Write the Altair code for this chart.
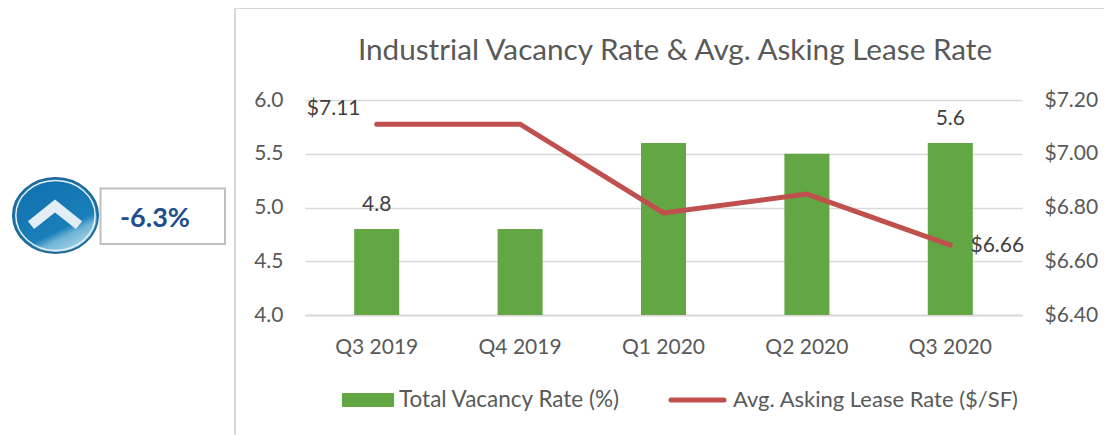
import altair as alt
import pandas as pd

quarters = ["Q3 2019", "Q4 2019", "Q1 2020", "Q2 2020", "Q3 2020"]
vacancy = [4.8, 4.8, 5.6, 5.5, 5.6]
lease = [7.11, 7.11, 6.78, 6.85, 6.66]
vacancy_labels = ["4.8", "", "", "", "5.6"]
lease_labels = ["$7.11", "", "", "", "$6.66"]

FONT = "Lato"
GRAY = "#595959"
LIGHT = "#D9D9D9"
GREEN = "#62A744"
RED = "#C0504D"

df = pd.DataFrame({"q": quarters, "v": vacancy, "l": lease, "vl": vacancy_labels, "ll": lease_labels})
one = alt.Data(values=[{"a": 1}])

W, H = 717, 215
OX, OY = 305, 100  # plot origin on the page


def px(x):
    return alt.value(x - OX)


def py(y):
    return alt.value(y - OY)


xenc = alt.X("q:N", sort=quarters, title=None,
             scale=alt.Scale(paddingInner=0.686, paddingOuter=0.343),
             axis=alt.Axis(labelAngle=0, labelFont=FONT, labelFontSize=21, labelColor=GRAY,
                           labelPadding=21, ticks=False, domainColor=LIGHT, domainWidth=2, grid=False))
xplain = alt.X("q:N", sort=quarters)

bars = alt.Chart(df).mark_bar(color=GREEN, clip=True).encode(
    x=xenc,
    y=alt.Y("v:Q", title=None, scale=alt.Scale(domain=[4, 6], nice=False),
            axis=alt.Axis(values=[4, 4.5, 5, 5.5, 6], format=".1f", labelFont=FONT, labelFontSize=21,
                          labelColor=GRAY, labelPadding=22, ticks=False, domain=False,
                          grid=True, gridColor=LIGHT, gridWidth=1.5)),
)
vlab = alt.Chart(df).transform_filter("datum.vl != ''").mark_text(
    font=FONT, fontSize=21, color="#404040", dy=-24).encode(x=xplain, y=alt.Y("v:Q"), text="vl:N")
left = alt.layer(bars, vlab)

yr = alt.Y("l:Q", title=None, scale=alt.Scale(domain=[6.4, 7.2], nice=False),
           axis=alt.Axis(orient="right", values=[6.4, 6.6, 6.8, 7.0, 7.2], format="$.2f", labelFont=FONT,
                         labelFontSize=21, labelColor=GRAY, labelPadding=22, ticks=False, domain=False,
                         grid=False))
line = alt.Chart(df).mark_line(color=RED, strokeWidth=5, strokeCap="round", strokeJoin="miter").encode(
    x=xplain, y=yr)
llab1 = alt.Chart(df).transform_filter("datum.q == 'Q3 2019'").mark_text(
    font=FONT, fontSize=21, color="#404040", dx=-43, dy=-15).encode(x=xplain, y=alt.Y("l:Q"), text="ll:N")
llab2 = alt.Chart(df).transform_filter("datum.q == 'Q3 2020' ").mark_text(
    font=FONT, fontSize=21, color="#404040", dx=47, dy=1).encode(x=xplain, y=alt.Y("l:Q"), text="ll:N")
right = alt.layer(line, llab1, llab2)


def text(s, x, y, size=20, color=GRAY, align="left", weight="normal", font=FONT):
    return alt.Chart(one).mark_text(text=s, font=font, fontSize=size, color=color, align=align,
                                    baseline="middle", fontWeight=weight).encode(x=px(x), y=py(y))


ELLIPSE = "M-1,0 A1,0.88,0,1,1,1,0 A1,0.88,0,1,1,-1,0 Z"
deco = [
    # panel border
    alt.Chart(one).mark_rule(color=LIGHT, strokeWidth=2).encode(x=px(235), y=py(8), y2=py(435)),
    alt.Chart(one).mark_rule(color=LIGHT, strokeWidth=2).encode(x=px(235), x2=px(1112), y=py(8)),
    # title
    text("Industrial Vacancy Rate & Avg. Asking Lease Rate", 675, 51, size=29.7, align="center"),
    # legend
    alt.Chart(one).mark_rect(color=GREEN).encode(x=px(342), x2=px(394), y=py(393), y2=py(407)),
    text("Total Vacancy Rate (%)", 399, 400, size=22.5),
    alt.Chart(one).mark_rule(color=RED, strokeWidth=5, strokeCap="round").encode(x=px(671), x2=px(724), y=py(400)),
    text("Avg. Asking Lease Rate ($/SF)", 733, 400, size=22),
    # badge
    alt.Chart(one).mark_point(
        shape=ELLIPSE, filled=True, size=7225, opacity=1,
        stroke="#1F6A98", strokeWidth=2,
        fill=alt.LinearGradient(gradient="linear", x1=0.3, y1=0.2, x2=0.75, y2=1, stops=[
            alt.GradientStop(offset=0, color="#1274B2"),
            alt.GradientStop(offset=0.6, color="#1A7FB8"),
            alt.GradientStop(offset=0.72, color="#6FB3D6"),
            alt.GradientStop(offset=1, color="#B5DCEE")]),
    ).encode(x=px(55.5), y=py(215.5)),
    alt.Chart(one).mark_point(
        shape=ELLIPSE, filled=False, size=6300, opacity=1, stroke="#E6F2F8", strokeWidth=1.5,
    ).encode(x=px(55.5), y=py(215.5)),
    alt.Chart(one).mark_point(
        shape="M-1,0.8 L0,0 L1,0.8", filled=False, size=2304, opacity=1,
        stroke="#E2EDF5", strokeWidth=10, strokeCap="butt", strokeJoin="miter",
    ).encode(x=px(55), y=py(206)),
    # percent box
    alt.Chart(one).mark_rect(fill="white", stroke="#BFBFBF", strokeWidth=2).encode(
        x=px(100.5), x2=px(225), y=py(188.5), y2=py(244)),
    text("-6.3%", 155, 219, size=27, color="#1F4E8C", align="center", weight="bold"),
]

chart = alt.layer(left, right, *deco).resolve_scale(y="independent").properties(
    width=W, height=H,
    autosize=alt.AutoSizeParams(type="none"),
    padding={"left": OX - 8, "top": OY - 8, "right": 82, "bottom": 120},
).configure_view(stroke=None)

chart.save("out.html", embed_options={"renderer": "svg", "actions": False})
